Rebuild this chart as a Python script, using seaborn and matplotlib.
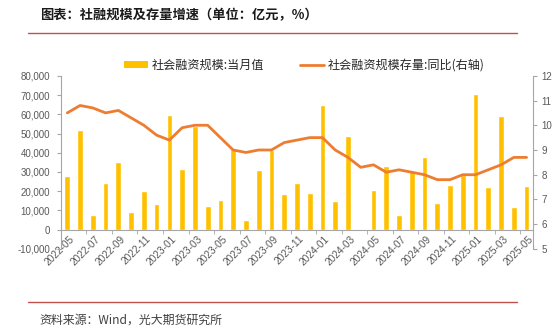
import numpy as np
import pandas as pd
import matplotlib
matplotlib.use("Agg")
import matplotlib.pyplot as plt
from matplotlib.lines import Line2D
from matplotlib.patches import Patch
import seaborn as sns

months = ["2022-05", "2022-06", "2022-07", "2022-08", "2022-09", "2022-10", "2022-11", "2022-12",
          "2023-01", "2023-02", "2023-03", "2023-04", "2023-05", "2023-06", "2023-07", "2023-08",
          "2023-09", "2023-10", "2023-11", "2023-12", "2024-01", "2024-02", "2024-03", "2024-04",
          "2024-05", "2024-06", "2024-07", "2024-08", "2024-09", "2024-10", "2024-11", "2024-12",
          "2025-01", "2025-02", "2025-03", "2025-04", "2025-05"]
monthly_tsf = [27900, 51700, 7561, 24300, 35300, 9079, 19900, 13100,
               59800, 31600, 53800, 12200, 15600, 42200, 5282, 31200,
               41300, 18400, 24500, 19300, 65000, 15100, 48700, -658,
               20600, 33000, 7707, 30300, 37600, 14000, 23400, 28500,
               70600, 22300, 58900, 11600, 22900]
stock_yoy = [10.5, 10.8, 10.7, 10.5, 10.6, 10.3, 10.0, 9.6,
             9.4, 9.9, 10.0, 10.0, 9.5, 9.0, 8.9, 9.0,
             9.0, 9.3, 9.4, 9.5, 9.5, 9.0, 8.7, 8.3,
             8.4, 8.1, 8.2, 8.1, 8.0, 7.8, 7.8, 8.0,
             8.0, 8.2, 8.4, 8.7, 8.7]
left_ticks = [-10000, 0, 10000, 20000, 30000, 40000, 50000, 60000, 70000, 80000]
right_ticks = [5, 6, 7, 8, 9, 10, 11, 12]
bar_label = "社会融资规模:当月值"
line_label = "社会融资规模存量:同比(右轴)"
title = "图表：社融规模及存量增速（单位：亿元，%）"
source = "资料来源：Wind，光大期货研究所"

BAR_C = "#FFC000"
LINE_C = "#ED7D31"
GRID_C = "#A6A6A6"
TXT_C = "#595959"
NUM_FONT = ["Liberation Sans", "DejaVu Sans"]

sns.set_style("white")
plt.rcParams["font.family"] = ["Noto Sans CJK SC", "DejaVu Sans"]
plt.rcParams["axes.unicode_minus"] = False

df = pd.DataFrame({"month": months, "tsf": monthly_tsf, "yoy": stock_yoy})
df["pos"] = np.arange(len(df))

fig = plt.figure(figsize=(5.54, 3.31), dpi=100)
ax = fig.add_axes([0.110, 0.248, 0.852, 0.523])

sns.barplot(data=df, x="pos", y="tsf", color=BAR_C, width=0.45, ax=ax,
            saturation=1, native_scale=True)
ax2 = ax.twinx()
sns.lineplot(data=df, x="pos", y="yoy", color=LINE_C, lw=2, ax=ax2)
ax2.xaxis.set_visible(False)

ax.set_ylim(left_ticks[0], left_ticks[-1])
ax.set_yticks(left_ticks)
ax.set_yticklabels([f"{v:,}" for v in left_ticks], fontsize=7, color=TXT_C,
                   family=NUM_FONT)
ax2.set_ylim(right_ticks[0], right_ticks[-1])
ax2.set_yticks(right_ticks)
ax2.set_yticklabels([str(v) for v in right_ticks], fontsize=7, color=TXT_C,
                    family=NUM_FONT)
ax.set_xlim(-0.5, len(months) - 0.5)
ax2.set_ylabel("")
ax.set_xlabel("")
ax.set_ylabel("")

tick_idx = list(range(0, len(months), 2))
ax.set_xticks([i + 0.15 for i in tick_idx])
ax.set_xticklabels([months[i] for i in tick_idx])
ax.set_xticks([i - 0.5 for i in tick_idx], minor=True)
ax.tick_params(axis="x", which="major", labelrotation=45, labelsize=7.3, labelcolor=TXT_C,
               length=0, pad=3, bottom=True)
ax.tick_params(axis="x", which="minor", length=3, color=GRID_C, bottom=True)

for a in (ax, ax2):
    for s in a.spines.values():
        s.set_visible(False)
ax.spines["bottom"].set_visible(True)
ax.spines["bottom"].set_position(("data", 0))
ax.spines["bottom"].set_color(GRID_C)
ax.spines["left"].set_visible(True)
ax.spines["left"].set_color(GRID_C)
ax2.spines["right"].set_visible(True)
ax2.spines["right"].set_color(GRID_C)
ax.tick_params(axis="y", length=3, color=GRID_C, pad=5, left=True)
ax2.tick_params(axis="y", length=3, color=GRID_C, pad=3, right=True)
ax.grid(False)
ax2.grid(False)

handles = [Patch(facecolor=BAR_C, edgecolor="none"), Line2D([0], [0], color=LINE_C, lw=2)]
fig.legend(handles, [bar_label, line_label], loc="center", bbox_to_anchor=(0.549, 0.804),
           ncol=2, frameon=False, fontsize=8.7, handlelength=2.0, handleheight=0.5,
           handletextpad=0.25, columnspacing=3.0, labelcolor="#262626")

fig.text(0.072, 0.955, title, fontsize=9.5, fontweight="bold", ha="left", va="center", color="#1a1a1a")
fig.add_artist(Line2D([0.051, 0.933], [0.900, 0.900], color="#C0504D", lw=1, transform=fig.transFigure))
fig.add_artist(Line2D([0.051, 0.933], [0.089, 0.089], color="#C0504D", lw=1, transform=fig.transFigure))
fig.text(0.072, 0.033, source, fontsize=8.6, style="italic", ha="left", va="center", color="#404040")

fig.canvas.draw()
for lbl in ax.get_xticklabels():
    lbl.set_ha("right")
    lbl.set_va("top")
    lbl.set_rotation_mode("anchor")
    lbl.set_family(NUM_FONT)

fig.savefig("out.png", dpi=100)
